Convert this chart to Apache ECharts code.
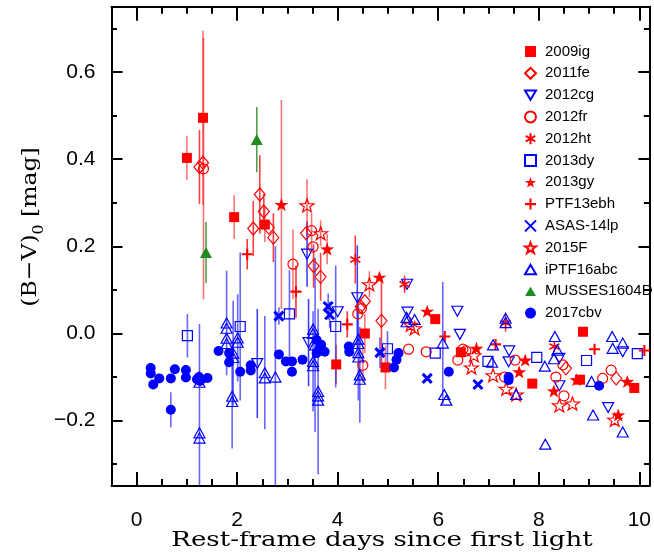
<!DOCTYPE html>
<html><head><meta charset="utf-8">
<script src="https://cdn.jsdelivr.net/npm/echarts@6/dist/echarts.min.js"></script>
<style>html,body{margin:0;padding:0;background:#fff}#c{width:654px;height:554px}</style>
</head><body><div id="c"></div>
<script>
// ---- data: [day, (B-V)0, error] ----
const sn2009ig = [[1.0,0.403,0.05],[1.32,0.495,0.2],[1.94,0.267,0.05],[2.55,0.25,0.04],[3.97,-0.071,0.045],[4.54,0.0,0.045],[4.95,-0.078,0.05],[5.94,0.033,0],[6.45,-0.043,0],[7.87,-0.115,0],[8.82,-0.106,0],[8.88,0.004,0],[9.9,-0.125,0]];
const sn2011fe = [[1.25,0.382,0.085],[1.32,0.392,0],[2.45,0.319,0.09],[2.53,0.28,0.04],[2.32,0.241,0.063],[2.63,0.243,0],[2.72,0.22,0.056],[3.37,0.23,0],[3.52,0.155,0.05],[3.66,0.13,0.055],[4.46,0.062,0],[4.54,0.074,0],[4.87,0.029,0.1],[8.54,-0.08,0],[9.54,-0.103,0]];
const sn2012cg = [[2.4,-0.069,0.125],[3.39,0.182,0.075],[3.42,-0.021,0.1],[4.0,0.05,0],[4.39,0.082,0.12],[5.38,0.113,0],[5.39,0.049,0],[6.38,0.051,0],[6.43,-0.002,0],[7.41,-0.04,0],[7.4,-0.065,0],[8.41,-0.057,0],[8.41,-0.12,0],[9.38,-0.17,0],[9.67,-0.042,0]];
const sn2012fr = [[1.33,0.378,0.3],[3.11,0.159,0.08],[3.48,0.236,0.04],[3.51,0.199,0],[4.4,0.045,0],[4.47,0.057,0],[4.5,-0.073,0.04],[5.41,-0.036,0],[5.76,-0.042,0],[6.39,-0.061,0],[6.49,-0.036,0],[6.55,-0.04,0],[7.32,-0.1,0],[7.53,-0.061,0],[8.34,-0.1,0],[8.48,-0.072,0],[8.5,-0.143,0],[9.27,-0.103,0],[9.44,-0.084,0]];
const sn2012ht = [[4.35,0.17,0.055],[5.33,0.113,0.02],[7.34,0.024,0.02],[8.31,-0.03,0]];
const sn2013dy = [[1.01,-0.005,0.05],[2.06,0.016,0.17],[3.04,0.045,0.1],[3.96,0.016,0.14],[4.99,-0.035,0.04],[5.94,-0.045,0],[6.99,-0.064,0],[7.96,-0.055,0],[8.95,-0.062,0],[9.96,-0.046,0]];
const sn2013gy = [[2.88,0.296,0.24],[3.79,0.194,0.035],[4.83,0.129,0],[5.78,0.051,0],[6.76,-0.034,0],[7.61,-0.088,0],[7.73,-0.061,0],[8.3,-0.132,0],[8.75,-0.106,0],[9.58,-0.187,0],[9.76,-0.11,0]];
const ptf13ebh = [[2.2,0.182,0.035],[3.17,0.096,0.06],[4.19,0.021,0.03],[6.13,-0.007,0],[7.14,-0.025,0],[9.11,-0.036,0],[10.1,-0.039,0]];
const asas14lp = [[2.83,0.04,0.02],[3.81,0.062,0.03],[3.84,0.043,0.03],[4.84,-0.044,0.035],[5.78,-0.103,0],[6.79,-0.117,0]];
const sn2015F = [[3.39,0.294,0.06],[3.66,0.23,0.03],[4.63,0.113,0.03],[5.45,0.02,0],[5.53,0.012,0],[6.66,-0.078,0],[6.71,-0.05,0],[7.09,-0.096,0],[7.35,-0.127,0],[7.55,-0.14,0],[8.41,-0.165,0],[8.67,-0.161,0],[9.51,-0.198,0]];
const iptf16abc = [[1.25,-0.1,0],[1.25,-0.112,0],[1.25,-0.228,0.25],[1.25,-0.24,0],[1.79,0.024,0.12],[1.79,0.012,0],[1.79,-0.011,0],[1.79,-0.023,0],[1.92,-0.045,0.12],[1.92,-0.055,0],[1.9,-0.144,0.12],[1.9,-0.156,0],[2.01,-0.01,0.1],[2.01,-0.02,0],[2.55,-0.09,0.13],[2.55,-0.102,0],[2.76,-0.1,0.3],[3.51,0.01,0],[3.51,0.0,0],[3.55,-0.026,0.2],[3.51,-0.064,0.115],[3.51,-0.074,0],[3.61,-0.133,0.19],[3.61,-0.143,0],[3.61,-0.153,0],[4.41,-0.013,0],[4.41,-0.023,0],[4.41,-0.044,0.11],[4.41,-0.054,0],[4.44,-0.095,0.11],[4.44,-0.105,0],[5.37,0.037,0],[5.37,0.027,0],[5.53,0.032,0],[6.09,-0.022,0.14],[6.12,-0.14,0],[6.16,-0.153,0],[7.09,-0.026,0],[7.07,-0.066,0],[7.34,0.035,0],[7.34,0.025,0],[7.55,-0.14,0],[8.12,-0.075,0],[8.13,-0.254,0],[8.32,-0.007,0],[8.37,-0.038,0],[8.3,-0.058,0],[9.05,-0.11,0],[9.08,-0.187,0],[9.46,-0.007,0],[9.47,-0.034,0],[9.67,-0.022,0],[9.67,-0.226,0]];
const musses1604D = [[2.39,0.445,0.075],[1.38,0.186,0.07]];
const sn2017cbv = [[0.28,-0.079,0],[0.28,-0.092,0],[0.33,-0.117,0],[0.45,-0.103,0],[0.68,-0.103,0],[0.76,-0.082,0],[0.68,-0.175,0.04],[0.98,-0.084,0],[0.98,-0.101,0],[1.2,-0.105,0],[1.24,-0.1,0],[1.26,-0.109,0],[1.41,-0.102,0],[1.63,-0.04,0],[1.84,-0.045,0],[1.84,-0.066,0],[2.06,-0.088,0],[2.27,-0.073,0],[2.27,-0.085,0],[2.83,-0.048,0],[2.97,-0.064,0],[3.09,-0.064,0],[3.09,-0.088,0],[3.3,-0.06,0],[3.58,-0.015,0],[3.64,-0.034,0],[3.67,-0.026,0],[3.74,-0.042,0],[3.58,-0.045,0],[4.22,-0.03,0],[4.23,-0.042,0],[5.12,-0.078,0],[5.17,-0.06,0],[5.21,-0.045,0],[6.21,-0.088,0],[7.4,-0.1,0],[7.4,-0.107,0],[9.2,-0.12,0]];

const xMajorTicks = [0,2,4,6,8,10];
const xMinorTicks = [-0.5,0,0.5,1,1.5,2,2.5,3,3.5,4,4.5,5,5.5,6,6.5,7,7.5,8,8.5,9,9.5,10];
const yMajorTicks = [-0.2,0,0.2,0.4,0.6];
const yMinorTicks = [-0.3,-0.2,-0.1,0,0.1,0.2,0.3,0.4,0.5,0.6,0.7];

// ---- styling ----
const RED='#ff0000', BLUE='#0000ff', GREEN='#1e8c1e', NONE='rgba(0,0,0,0)';
const STAR='path://M0,-1L0.235,-0.324L0.951,-0.309L0.38,0.124L0.588,0.809L0,0.4L-0.588,0.809L-0.38,0.124L-0.951,-0.309L-0.235,-0.324Z';
const ASTER='path://M0,-1L0,1M-0.866,-0.5L0.866,0.5M-0.866,0.5L0.866,-0.5';
const PLUS='path://M-0.19,-1L0.19,-1L0.19,-0.19L1,-0.19L1,0.19L0.19,0.19L0.19,1L-0.19,1L-0.19,0.19L-1,0.19L-1,-0.19L-0.19,-0.19Z';
const CROSS='path://M-1,-1L1,1M-1,1L1,-1';
const TRIDOWN='path://M-1,-0.85L1,-0.85L0,0.85Z';
const TRIUP='path://M-1,0.85L1,0.85L0,-0.85Z';

const sets = [
 {name:'2009ig', data:sn2009ig, sym:'rect', size:10, fill:RED, stroke:RED, bw:0, ec:'rgba(255,0,0,0.55)'},
 {name:'2011fe', data:sn2011fe, sym:'diamond', size:[11,13], fill:NONE, stroke:RED, bw:1.2, ec:'rgba(255,0,0,0.75)'},
 {name:'2012cg', data:sn2012cg, sym:TRIDOWN, size:[11,10], fill:NONE, stroke:BLUE, bw:1.2, ec:'rgba(0,0,255,0.75)'},
 {name:'2012fr', data:sn2012fr, sym:'circle', size:10, fill:NONE, stroke:RED, bw:1.2, ec:'rgba(255,0,0,0.55)'},
 {name:'2012ht', data:sn2012ht, sym:ASTER, size:[10,11], fill:NONE, stroke:RED, bw:1.6, ec:'rgba(255,0,0,0.75)'},
 {name:'2013dy', data:sn2013dy, sym:'rect', size:10, fill:NONE, stroke:BLUE, bw:1.2, ec:'rgba(0,0,255,0.6)'},
 {name:'2013gy', data:sn2013gy, sym:STAR, size:[14,13], fill:RED, stroke:RED, bw:0, ec:'rgba(255,0,0,0.55)'},
 {name:'PTF13ebh', data:ptf13ebh, sym:PLUS, size:11, fill:RED, stroke:RED, bw:0, ec:'rgba(255,0,0,0.8)'},
 {name:'ASAS-14lp', data:asas14lp, sym:CROSS, size:9, fill:NONE, stroke:BLUE, bw:3, ec:'rgba(0,0,255,0.6)'},
 {name:'2015F', data:sn2015F, sym:STAR, size:[14,13], fill:NONE, stroke:RED, bw:1.2, ec:'rgba(255,0,0,0.55)'},
 {name:'iPTF16abc', data:iptf16abc, sym:TRIUP, size:[11,10], fill:NONE, stroke:BLUE, bw:1.2, ec:'rgba(0,0,255,0.6)'},
 {name:'MUSSES1604D', data:musses1604D, sym:TRIUP, size:[12,11], fill:GREEN, stroke:GREEN, bw:0, ec:'rgba(30,140,30,0.8)'},
 {name:'2017cbv', data:sn2017cbv, sym:'circle', size:10, fill:BLUE, stroke:BLUE, bw:0, ec:'rgba(0,0,255,0.6)'}
];

const series = [];
sets.forEach(s => {
  series.push({
    type:'custom', name:s.name+' err', data:s.data, clip:true, silent:true, z:1,
    encode:{x:0,y:1},
    renderItem:(params, api) => {
      const x=api.value(0), y=api.value(1), e=api.value(2);
      if(!e) return null;
      const p1=api.coord([x,y-e]), p2=api.coord([x,y+e]);
      return {type:'line', shape:{x1:p1[0],y1:p1[1],x2:p2[0],y2:p2[1]}, style:{stroke:s.ec, lineWidth:1.6}};
    }
  });
});
sets.forEach(s => {
  series.push({
    type:'scatter', name:s.name, data:s.data.map(d=>[d[0],d[1]]), symbol:s.sym, symbolSize:s.size, z:3,
    itemStyle:{color:s.fill, borderColor:s.stroke, borderWidth:s.bw, opacity:1}
  });
});

const FONT='"Liberation Sans", Arial, sans-serif';
const SERIF='"DejaVu Serif", serif';
function xa(pos, ticks, len, line, labels){
  return {type:'value', position:pos, min:-0.5, max:10.2,
    axisLine:{show:line, onZero:false, lineStyle:{color:'#000', width:2}},
    axisTick:{show:true, inside:true, length:len, customValues:ticks, lineStyle:{color:'#000', width:2}},
    axisLabel:{show:labels, customValues:ticks, margin:24, fontSize:21, color:'#000', fontFamily:FONT, formatter:v=>String(v)},
    splitLine:{show:false}};
}
function ya(pos, ticks, len, line, labels){
  return {type:'value', position:pos, min:-0.35, max:0.75,
    axisLine:{show:line, onZero:false, lineStyle:{color:'#000', width:2}},
    axisTick:{show:true, inside:true, length:len, customValues:ticks, lineStyle:{color:'#000', width:2}},
    axisLabel:{show:labels, customValues:ticks, margin:16, fontSize:21, color:'#000', fontFamily:FONT, formatter:v=>v.toFixed(1).replace('-','\u2212')},
    splitLine:{show:false}};
}

const chart = echarts.init(document.getElementById('c'), null, {renderer:'canvas'});
chart.setOption({
  animation:false,
  backgroundColor:'#fff',
  grid:{left:111.5, right:4.5, top:6.7, bottom:68, containLabel:false},
  xAxis:[xa('bottom',xMajorTicks,14,true,true), xa('bottom',xMinorTicks,7,false,false), xa('top',xMajorTicks,14,true,false), xa('top',xMinorTicks,7,false,false)],
  yAxis:[ya('left',yMajorTicks,11,true,true), ya('left',yMinorTicks,5.5,false,false), ya('right',yMajorTicks,11,true,false), ya('right',yMinorTicks,5.5,false,false)],
  legend:{orient:'vertical', left:519, top:39, itemWidth:11, itemHeight:11, itemGap:6.8, selectedMode:false,
    data:sets.map(s=>s.name),
    textStyle:{fontSize:15, lineHeight:15, color:'#000', fontFamily:FONT, padding:[0,0,0,4]}},
  graphic:[
    {type:'text', x:382, y:541, scaleX:1.24, style:{text:'Rest-frame days since first light', font:'21px '+SERIF, fill:'#000', align:'center', verticalAlign:'middle'}},
    {type:'text', x:31, y:227, rotation:Math.PI/2, scaleX:1.12, style:{text:'{m|(B\u2212V)}{s|0}{m| [mag]}', align:'center', verticalAlign:'middle',
      rich:{m:{fontSize:21, fontFamily:SERIF, lineHeight:30, verticalAlign:'middle', fill:'#000'},
            s:{fontSize:14, fontFamily:SERIF, lineHeight:14, verticalAlign:'bottom', fill:'#000'}}}}
  ],
  series:series
});
</script></body></html>
